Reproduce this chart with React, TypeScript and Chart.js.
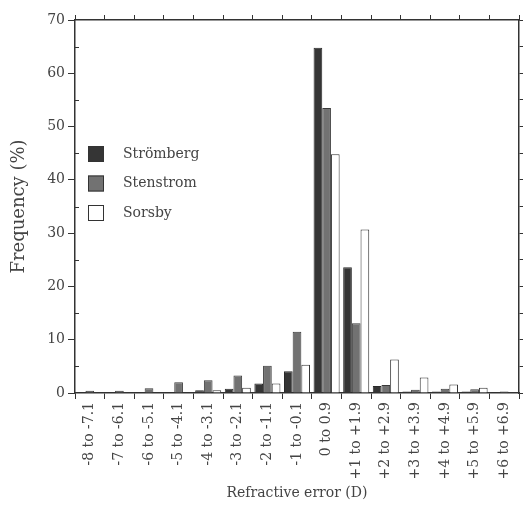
import React, { useEffect, useRef } from "react";
import { Chart, registerables } from "chart.js";

Chart.register(...registerables);

const categories = [
  "-8 to -7.1", "-7 to -6.1", "-6 to -5.1", "-5 to -4.1", "-4 to -3.1",
  "-3 to -2.1", "-2 to -1.1", "-1 to -0.1", "0 to 0.9", "+1 to +1.9",
  "+2 to +2.9", "+3 to +3.9", "+4 to +4.9", "+5 to +5.9", "+6 to +6.9",
];
const stromberg = [0.2, 0.2, 0.2, 0.2, 0.5, 0.8, 1.8, 4.1, 64.8, 23.6, 1.3, 0.3, 0.3, 0.3, 0.2];
const stenstrom = [0.4, 0.4, 0.9, 2.0, 2.4, 3.3, 5.1, 11.5, 53.5, 13.1, 1.5, 0.6, 0.8, 0.7, 0.3];
const sorsby = [0.0, 0.0, 0.1, 0.1, 0.5, 1.0, 1.8, 5.3, 44.8, 30.7, 6.3, 2.9, 1.6, 1.0, 0.1];
const seriesNames = ["Strömberg", "Stenstrom", "Sorsby"];
const yTicksMajor = [0, 10, 20, 30, 40, 50, 60, 70];

const FONT = "'DejaVu Serif', 'Liberation Serif', serif";
const INK = "#333";
const TEXT = "#444";

const legendPlugin = {
  id: "insideLegend",
  afterDraw(chart: any) {
    const { ctx, chartArea } = chart;
    ctx.save();
    const x0 = chartArea.left + 13;
    let y0 = 146;
    chart.data.datasets.forEach((ds: any) => {
      ctx.fillStyle = ds.backgroundColor;
      ctx.strokeStyle = INK;
      ctx.lineWidth = 1;
      ctx.fillRect(x0, y0, 16, 16);
      ctx.strokeRect(x0 + 0.5, y0 + 0.5, 15, 15);
      ctx.fillStyle = TEXT;
      ctx.font = "14px " + FONT;
      ctx.textBaseline = "middle";
      ctx.textAlign = "left";
      ctx.fillText(ds.label, x0 + 35, y0 + 8);
      y0 += 29.5;
    });
    // minor ticks on left axis (inward)
    const y = chart.scales.y;
    ctx.strokeStyle = INK;
    ctx.lineWidth = 1;
    for (let v = 5; v < 70; v += 10) {
      const py = Math.round(y.getPixelForValue(v)) + 0.5;
      ctx.beginPath();
      ctx.moveTo(chartArea.left, py);
      ctx.lineTo(chartArea.left + 4, py);
      ctx.stroke();
    }
    ctx.restore();
  },
};

export default function App() {
  const ref = useRef<HTMLCanvasElement | null>(null);
  useEffect(() => {
    document.body.style.margin = "0";
    document.body.style.background = "#fff";
    const axisCommon = {
      border: { display: true, color: INK, width: 1.5 },
    };
    const chart = new Chart(ref.current as HTMLCanvasElement, {
      type: "bar",
      data: {
        labels: categories,
        datasets: [
          { label: seriesNames[0], data: stromberg, backgroundColor: "#353535", borderColor: "#2a2a2a", borderWidth: 1 },
          { label: seriesNames[1], data: stenstrom, backgroundColor: "#727272", borderColor: "#3a3a3a", borderWidth: 1 },
          { label: seriesNames[2], data: sorsby, backgroundColor: "#ffffff", borderColor: "#333333", borderWidth: 1 },
        ],
      },
      options: {
        responsive: false,
        animation: false,
        layout: { padding: 0 },
        plugins: { legend: { display: false }, tooltip: { enabled: false } },
        datasets: { bar: { categoryPercentage: 0.88, barPercentage: 1.0 } },
        scales: {
          x: {
            ...axisCommon,
            type: "category",
            position: "bottom",
            offset: true,
            grid: { drawOnChartArea: false, offset: true, tickLength: 6, color: INK, tickWidth: 1 },
            ticks: { font: { family: FONT, size: 14 }, color: TEXT, minRotation: 90, maxRotation: 90, autoSkip: false, padding: 3 },
            title: { display: true, text: "Refractive error (D)", font: { family: FONT, size: 14 }, color: TEXT, padding: { top: 4, bottom: 7 } },
            afterFit: (s: any) => { s.height = 116; },
          },
          x2: {
            ...axisCommon,
            type: "category",
            position: "top",
            offset: true,
            grid: { drawOnChartArea: false, offset: true, tickLength: 5, color: INK },
            ticks: { display: false },
            afterFit: (s: any) => { s.height = 20; },
          },
          y: {
            ...axisCommon,
            type: "linear",
            position: "left",
            min: 0,
            max: 70,
            afterBuildTicks: (s: any) => { s.ticks = yTicksMajor.map((v) => ({ value: v })); },
            grid: { drawOnChartArea: false, tickLength: 7, color: INK },
            ticks: { font: { family: FONT, size: 14 }, color: TEXT, padding: 3 },
            title: { display: true, text: "Frequency (%)", font: { family: FONT, size: 18 }, color: TEXT, padding: { top: 9, bottom: 4 } },
            afterFit: (s: any) => { s.width = 75; },
          },
          y2: {
            ...axisCommon,
            type: "linear",
            position: "right",
            min: 0,
            max: 70,
            ticks: { display: false, stepSize: 5 },
            grid: { drawOnChartArea: false, tickLength: 4, color: INK },
            afterFit: (s: any) => { s.width = 6; },
          },
        },
      } as any,
      plugins: [legendPlugin],
    });
    return () => chart.destroy();
  }, []);
  return <canvas ref={ref} width={525} height={509} style={{ display: "block" }} />;
}
